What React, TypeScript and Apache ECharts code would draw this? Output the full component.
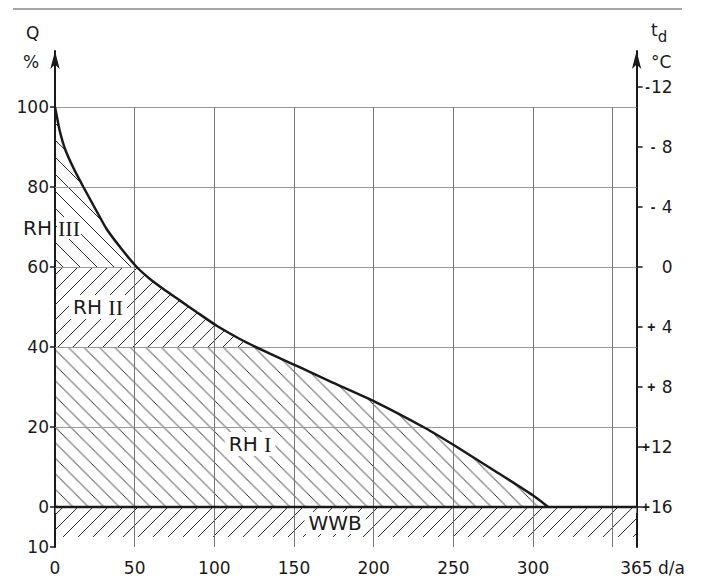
import React, { useEffect, useRef } from 'react';
import * as echarts from 'echarts';

// Load duration curve: days per year (d/a) vs. heat demand Q (%)
const curveDays = [0, 1, 3, 6.3, 11.5, 17.8, 24, 32.4, 41.8, 51.3, 59.6, 68, 78.5, 89, 101.5, 116, 126, 141, 153.8, 172.6, 200.9, 232.3, 251, 277.3, 300.3, 309.5];
const curveQ = [100, 98, 94, 89.5, 84.8, 80, 75.5, 69.5, 64.5, 60, 57, 54.5, 51.6, 48.7, 45.3, 42, 40, 37.2, 34.9, 31.4, 26.3, 19.75, 15.3, 8.7, 2.8, 0];

// zone boundaries (Q %)
const levelRH1 = 40; // RH I  : 0 .. 40
const levelRH2 = 60; // RH II : 40 .. 60, RH III above 60
const wwbBand = [-7.5, 0]; // WWB band below zero
const yearDays = 365;

// axis ticks
const xLabelValues = [0, 50, 100, 150, 200, 250, 300, 365];
const xTickValues = [0, 50, 100, 150, 200, 250, 300, 350, 365];
const xGridValues = [50, 100, 150, 200, 250, 300, 350];
const qTickValues = [-10, 0, 20, 40, 60, 80, 100];
const qGridValues = [20, 40, 60, 80, 100];
const qMin = -10;
const qMax = 114;
const tTickValues = [-12, -8, -4, 0, 4, 8, 12, 16];
const tTickLabels = ['{p|-}12', '{p|-} 8', '{p|-} 4', '0', '{p|+} 4', '{p|+} 8', '{p|+}12', '{p|+}16'];
// temperature axis correspondence: t = 0 °C at Q = 60 %, t = +16 °C at Q = 0 %
const qAtT0 = 60;
const qPerDeg = 3.75;

// zone labels (anchored in data coordinates)
const zoneLabels = [
  { id: 'rh3a', text: '{s|RH}', d: 0, q: 69.75, align: 'right', bg: false },
  { id: 'rh3b', text: '{r|III}', d: 0, q: 69.75, align: 'left', bg: true },
  { id: 'rh2', text: '{s|RH }{r|II}', d: 27, q: 50, align: 'center', bg: true },
  { id: 'rh1', text: '{s|RH }{r|I}', d: 122.4, q: 15.75, align: 'center', bg: true },
  { id: 'wwb', text: '{s|WWB}', d: 175.8, q: -4, align: 'center', bg: true },
];

const SANS = 'DejaVu Sans, Liberation Sans, sans-serif';
const SERIF = 'Liberation Serif, DejaVu Serif, serif';
const INK = '#1a1a1a';

function hatch(dir: 'back' | 'fwd', period: number, color = '#2a2a2a', width = 1) {
  const c = document.createElement('canvas');
  c.width = period;
  c.height = period;
  const ctx = c.getContext('2d')!;
  ctx.strokeStyle = color;
  ctx.lineWidth = width;
  for (let k = -1; k <= 1; k++) {
    ctx.beginPath();
    if (dir === 'back') {
      ctx.moveTo(k * period, 0);
      ctx.lineTo(k * period + period, period);
    } else {
      ctx.moveTo(k * period, period);
      ctx.lineTo(k * period + period, 0);
    }
    ctx.stroke();
  }
  return { image: c, repeat: 'repeat', imageWidth: period, imageHeight: period } as any;
}

export default function App() {
  const ref = useRef<HTMLDivElement>(null);
  useEffect(() => {
    const chart = echarts.init(ref.current!, null, { renderer: 'svg' });
    const curve = curveDays.map((d, i) => [d, curveQ[i]]);
    const rh1 = curve.map(([d, q]) => [d, Math.min(q, levelRH1)]);
    const rh2 = curve.filter(([, q]) => q >= levelRH1).map(([d, q]) => [d, Math.min(q, levelRH2)]);
    const rh3 = curve.filter(([, q]) => q >= levelRH2);

    const toV = (q: number) => (q - qAtT0) / qPerDeg;
    const tLabelMap: Record<string, string> = {};
    tTickValues.forEach((t, i) => (tLabelMap[String(-t)] = tTickLabels[i]));

    const areaSeries = (name: string, data: number[][], origin: number, pattern: any) => ({
      name,
      type: 'line',
      data,
      showSymbol: false,
      silent: true,
      lineStyle: { width: 0, opacity: 0 },
      areaStyle: { origin, color: pattern, opacity: 1 },
      z: 2,
    });

    const baseGraphic: any[] = [
      { id: 'rule', type: 'line', silent: true, shape: { x1: 13, y1: 9, x2: 682, y2: 9 }, style: { stroke: '#888', lineWidth: 1.5 } },
      { id: 'q', type: 'text', left: 26, top: 24, style: { text: 'Q', font: `17px ${SANS}`, fill: INK } },
      { id: 'pct', type: 'text', left: 23, top: 53, style: { text: '%', font: `17px ${SANS}`, fill: INK } },
      {
        id: 'td',
        type: 'text',
        left: 651,
        top: 21,
        style: {
          text: '{t|t}{d|d}',
          rich: {
            t: { fontFamily: SANS, fontSize: 17, fill: INK, verticalAlign: 'top' },
            d: { fontFamily: SANS, fontSize: 15, fill: INK, padding: [8, 0, 0, 0] },
          },
        },
      },
      { id: 'degc', type: 'text', left: 651, top: 53, style: { text: '°C', font: `17px ${SANS}`, fill: INK } },
    ];

    const option: any = {
      animation: false,
      grid: { left: 55, right: 65.4, top: 51, bottom: 40, containLabel: false },
      xAxis: {
        type: 'value',
        min: 0,
        max: yearDays,
        axisLine: { show: true, lineStyle: { color: '#888', width: 1 } },
        axisTick: { show: true, customValues: xTickValues, length: 6, lineStyle: { color: '#777', width: 1 } },
        axisLabel: {
          customValues: xLabelValues,
          margin: 12,
          fontFamily: SANS,
          fontSize: 17,
          color: INK,
          formatter: (v: number) => (v === yearDays ? `{sp| }${v}{u| d/a}` : String(v)),
          rich: {
            sp: { width: 32, fontSize: 17 },
            u: { fontFamily: SANS, fontSize: 17, color: INK },
          },
        },
        splitLine: { show: false },
      },
      yAxis: [
        {
          type: 'value',
          min: qMin,
          max: qMax,
          position: 'left',
          axisLine: {
            show: true,
            onZero: false,
            symbol: ['none', 'arrow'],
            symbolSize: [7, 18],
            lineStyle: { color: INK, width: 2 },
          },
          axisTick: { show: true, customValues: qTickValues, length: 5, lineStyle: { color: INK, width: 1.5 } },
          axisLabel: {
            customValues: qTickValues,
            margin: 6,
            fontFamily: SANS,
            fontSize: 17,
            color: INK,
            formatter: (v: number) => String(Math.abs(v)),
          },
          splitLine: { show: false },
        },
        {
          type: 'value',
          min: toV(qMin),
          max: toV(qMax),
          position: 'right',
          axisLine: {
            show: true,
            onZero: false,
            symbol: ['none', 'arrow'],
            symbolSize: [7, 18],
            lineStyle: { color: INK, width: 2 },
          },
          axisTick: { show: true, customValues: tTickValues.map((t) => -t), length: 6, lineStyle: { color: INK, width: 1.5 } },
          axisLabel: {
            customValues: tTickValues.map((t) => -t),
            margin: 36,
            align: 'right',
            fontFamily: SANS,
            fontSize: 17,
            color: INK,
            formatter: (v: number) => tLabelMap[String(Math.round(v))] ?? '',
            rich: {
              p: { fontFamily: 'Liberation Sans, sans-serif', fontSize: 14, fontWeight: 'bold', color: INK, padding: [0, 1, 0, 0] },
            },
          },
          splitLine: { show: false },
        },
      ],
      graphic: baseGraphic,
      series: [
        {
          ...areaSeries('WWB', [[0, wwbBand[0]], [yearDays, wwbBand[0]]], wwbBand[1], hatch('fwd', 15)),
          markLine: {
            silent: true,
            symbol: ['none', 'none'],
            label: { show: false },
            lineStyle: { color: '#999', width: 1, type: 'solid' },
            data: [
              ...qGridValues.map((q) => [{ coord: [0, q] }, { coord: [yearDays, q] }]),
              ...xGridValues.map((d) => [
                { coord: [d, qMin], lineStyle: { color: '#777', width: 1, type: 'solid' } },
                { coord: [d, 100] },
              ]),
            ],
          },
        },
        areaSeries('RH I', rh1, 0, hatch('back', 15.5)),
        areaSeries('RH II', rh2, levelRH1, hatch('fwd', 15)),
        areaSeries('RH III', rh3, levelRH2, hatch('back', 17)),
        {
          name: 'zero',
          type: 'line',
          data: [[0, 0], [yearDays, 0]],
          showSymbol: false,
          silent: true,
          lineStyle: { color: INK, width: 2.5 },
          z: 5,
        },
        {
          name: 'Q',
          type: 'line',
          data: curve,
          showSymbol: false,
          silent: true,
          smooth: 0.2,
          lineStyle: { color: INK, width: 2.5 },
          z: 6,
        },
      ],
    };
    chart.setOption(option);

    const labelGraphics = zoneLabels.map((l) => {
      const [px, py] = chart.convertToPixel({ xAxisIndex: 0, yAxisIndex: 0 }, [l.d, l.q]) as number[];
      const dx = l.align === 'right' ? -2 : l.align === 'left' ? 2 : 0;
      return {
        id: l.id,
        type: 'text',
        silent: true,
        z: 100,
        x: px + dx,
        y: py,
        style: {
          text: l.text,
          align: l.align,
          verticalAlign: 'middle',
          backgroundColor: l.bg ? '#fff' : undefined,
          padding: l.align === 'center' ? [1, 4, 1, 4] : [0, 1, 0, 1],
          rich: {
            s: { fontFamily: SANS, fontSize: 20, fill: INK },
            r: { fontFamily: SERIF, fontSize: 22, fill: INK },
          },
        },
      };
    });
    chart.setOption({ graphic: [...baseGraphic, ...labelGraphics] });
    return () => chart.dispose();
  }, []);
  return <div ref={ref} style={{ position: 'absolute', left: 0, top: 0, width: 702, height: 587 }} />;
}
